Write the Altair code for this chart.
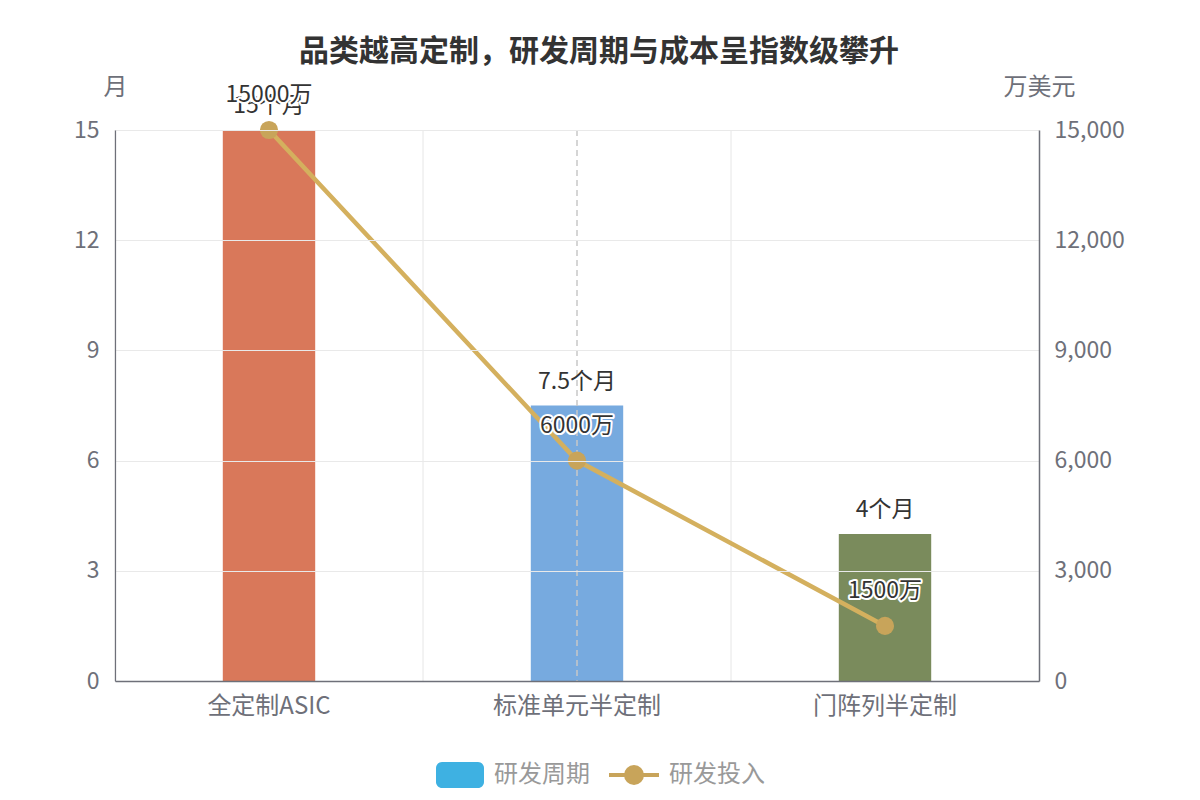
import altair as alt
import pandas as pd

categories = ["全定制ASIC", "标准单元半定制", "门阵列半定制"]
months = [15, 7.5, 4]
month_labels = ["15个月", "7.5个月", "4个月"]
invest = [15000, 6000, 1500]
invest_labels = ["15000万", "6000万", "1500万"]
bar_colors = ["#d9785a", "#77aadf", "#7a8b5c"]

FONT = "Noto Sans CJK SC"
W, H = 924, 551

df = pd.DataFrame({
    "cat": categories,
    "months": months,
    "mlabel": month_labels,
    "invest": invest,
    "ilabel": invest_labels,
    "color": bar_colors,
})

xscale = alt.Scale(paddingInner=0, paddingOuter=0)
xaxis = alt.Axis(title=None, labelFontSize=24, labelColor="#6e7079", labelFont=FONT,
                 labelPadding=13, ticks=False, domainColor="#6e7079", domainWidth=1.5,
                 grid=False, labelAngle=0, zindex=1)

def X(**kw):
    return alt.X("cat:N", sort=categories, scale=xscale, axis=xaxis, **kw)

base = alt.Chart(df)

yleft = alt.Y("months:Q", scale=alt.Scale(domain=[0, 15], nice=False),
              axis=alt.Axis(title="月", values=[0, 3, 6, 9, 12, 15], orient="left",
                            labelFontSize=23, labelColor="#6e7079", labelFont=FONT, labelPadding=16,
                            ticks=False, domainColor="#6e7079", domainWidth=1.2, zindex=1,
                            grid=True, gridColor="#e9e9e9", gridWidth=1,
                            titleFontSize=24, titleColor="#6e7079", titleFont=FONT,
                            titleFontWeight="normal", titleAngle=0, titleAlign="center",
                            titleBaseline="middle", titleX=0, titleY=-43))

vgrid = base.mark_rule(color="#e6e6e6", strokeWidth=1).encode(x=X(bandPosition=0))

bars = base.mark_bar(width=alt.RelativeBandSize(0.3)).encode(
    x=X(), y=yleft, color=alt.Color("color:N", scale=None))

pointer = base.transform_filter(alt.datum.cat == categories[1]).mark_rule(
    color="#c8c8c8", strokeDash=[6, 4], strokeWidth=1.5).encode(x=X())

bar_text = base.mark_text(fontSize=23, font=FONT, color="#333333", baseline="middle", dy=-24).encode(
    x=X(), y="months:Q", text="mlabel:N")

left_layer = alt.layer(vgrid, bars, pointer, bar_text)

yright = alt.Y("invest:Q", scale=alt.Scale(domain=[0, 15000], nice=False),
               axis=alt.Axis(title="万美元", values=[0, 3000, 6000, 9000, 12000, 15000], orient="right",
                             labelExpr="format(datum.value, ',')", labelFontSize=23,
                             labelColor="#6e7079", labelFont=FONT, zindex=1,
                             labelPadding=15, ticks=False, domainColor="#6e7079", domainWidth=1.5,
                             grid=False, titleFontSize=24, titleColor="#6e7079", titleFont=FONT,
                             titleFontWeight="normal", titleAngle=0, titleAlign="center",
                             titleBaseline="middle", titleX=0, titleY=-43))

line = base.mark_line(color="#d4b05e", strokeWidth=4.5).encode(x=X(), y=yright)
pts = base.mark_point(filled=True, opacity=1, color="#c8a45a", size=330, shape="circle").encode(
    x=X(), y="invest:Q")
halo = base.mark_text(fontSize=23, font=FONT, color="#333333", stroke="white", strokeWidth=4,
                      strokeJoin="round", baseline="middle", dy=-35).encode(
    x=X(), y="invest:Q", text="ilabel:N")
itext = base.mark_text(fontSize=23, font=FONT, color="#333333", baseline="middle", dy=-35).encode(
    x=X(), y="invest:Q", text="ilabel:N")

right_layer = alt.layer(line, pts, halo, itext)

one = alt.Chart(pd.DataFrame({"a": [0]}))
title = one.mark_text(text="品类越高定制，研发周期与成本呈指数级攀升", fontSize=30, fontWeight="bold",
                      font=FONT, color="#333333", align="center", baseline="middle").encode(
    x=alt.value(484), y=alt.value(-78))
leg_rect = one.mark_rect(color="#3eb1e2", cornerRadius=6).encode(
    x=alt.value(321), x2=alt.value(369), y=alt.value(632), y2=alt.value(658))
leg_t1 = one.mark_text(text="研发周期", fontSize=24, font=FONT, color="#999999",
                       align="left", baseline="middle").encode(x=alt.value(379), y=alt.value(645))
leg_line = one.mark_rule(color="#c8a45a", strokeWidth=4).encode(
    x=alt.value(494), x2=alt.value(544), y=alt.value(645))
leg_pt = one.mark_point(filled=True, opacity=1, color="#c8a45a", size=400, shape="circle").encode(
    x=alt.value(519), y=alt.value(645))
leg_t2 = one.mark_text(text="研发投入", fontSize=24, font=FONT, color="#999999",
                       align="left", baseline="middle").encode(x=alt.value(554), y=alt.value(645))

chart = alt.layer(left_layer, right_layer, title, leg_rect, leg_t1, leg_line, leg_pt, leg_t2).resolve_scale(
    y="independent").properties(
    width=W, height=H,
    padding={"left": 115, "top": 130, "right": 161, "bottom": 119},
    autosize=alt.AutoSizeParams(type="none"),
    background="white",
).configure_view(stroke=None)

chart.save("out.html", embed_options={"renderer": "svg", "actions": False})
